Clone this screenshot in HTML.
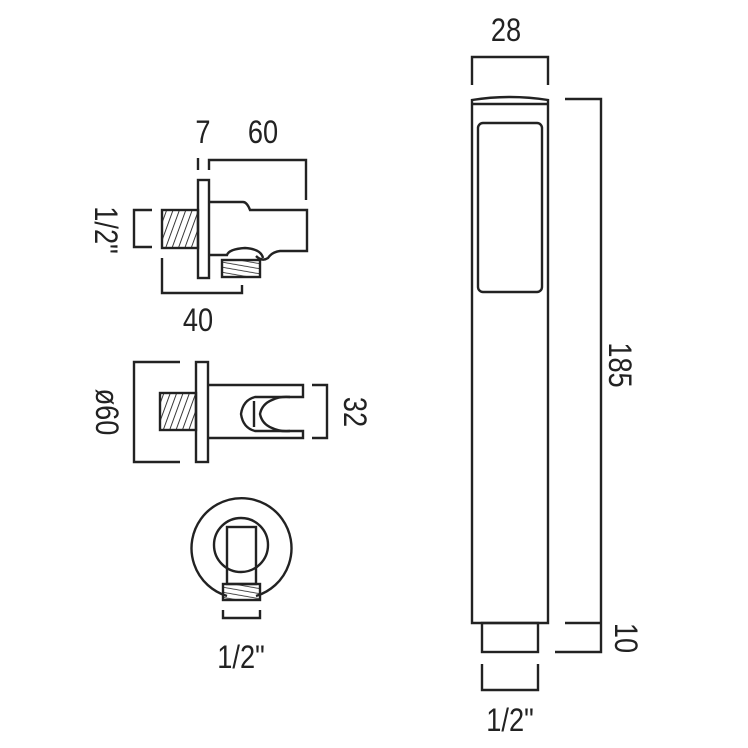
<!DOCTYPE html>
<html><head><style>
html,body{margin:0;padding:0;background:#fff;}
svg{display:block}
text{font-family:"Liberation Sans",sans-serif;font-size:32px;fill:#222;}
</style></head><body>
<svg width="748" height="748" viewBox="0 0 748 748" fill="none" stroke="#222" stroke-width="2.4">
<defs>
<pattern id="h" width="6" height="6" patternUnits="userSpaceOnUse" patternTransform="rotate(20)">
<line x1="0" y1="0" x2="0" y2="6" stroke="#222" stroke-width="1.8"/></pattern>
<pattern id="h2" width="5" height="5" patternUnits="userSpaceOnUse" patternTransform="rotate(-80)">
<line x1="0" y1="0" x2="0" y2="5" stroke="#222" stroke-width="1.6"/></pattern>
</defs>

<!-- side view -->
<text x="203" y="143" text-anchor="middle" stroke="none" transform="translate(203,0) scale(0.85,1) translate(-203,0)">7</text>
<text x="263" y="143" text-anchor="middle" stroke="none" transform="translate(263,0) scale(0.85,1) translate(-263,0)">60</text>
<polyline points="209,170 209,160 306,160 306,200"/>
<line x1="198" y1="158" x2="198" y2="170"/>
<rect x="198" y="180" width="11" height="98"/>
<rect x="162" y="210" width="36" height="38" fill="url(#h)"/>
<polyline points="152,210 134,210 134,247 152,247"/>
<text transform="translate(95,230) rotate(90) scale(0.85,1)" text-anchor="middle" stroke="none">1/2"</text>
<path d="M209,202 L243,202 Q247,202 250,210 L307,210 L307,251 L280,251 Q272,252 268,258 Q262,262 256,256 M209,255 L227,255 Q229,249 245,248 Q261,249 263,258"/>
<rect x="222" y="260" width="38" height="17" fill="url(#h2)"/>
<polyline points="162,258 162,293 242,293 242,285"/>
<text x="198" y="331" text-anchor="middle" stroke="none" transform="translate(198,0) scale(0.85,1) translate(-198,0)">40</text>

<!-- front view -->
<polyline points="180,362 134,362 134,462 180,462"/>
<text transform="translate(96,412) rotate(90) scale(0.85,1)" text-anchor="middle" stroke="none">ø60</text>
<rect x="196" y="362" width="12" height="100"/>
<rect x="160" y="393" width="36" height="37" fill="url(#h)"/>
<path d="M208,385 L303,385 L303,397 L290,397 Q280,396 272,400 Q262,404 260,414 Q262,424 272,428 Q280,432 290,431 L303,431 L303,438 L208,438"/>
<path d="M290,397 L255,397 Q243,400 241,414 Q243,428 255,431 L290,431"/>
<line x1="254" y1="401" x2="254" y2="427"/>
<polyline points="312,385 327,385 327,438 312,438"/>
<text transform="translate(344,412) rotate(90) scale(0.85,1)" text-anchor="middle" stroke="none">32</text>

<!-- round view -->
<path d="M227,596 A50,50 0 1 1 256,596"/>
<circle cx="241" cy="545" r="27"/>
<rect x="227" y="527" width="29" height="57"/>
<rect x="223" y="584" width="37" height="16" fill="url(#h2)"/>
<polyline points="223,610 223,618 260,618 260,610"/>
<text x="241" y="668" text-anchor="middle" stroke="none" transform="translate(241,0) scale(0.85,1) translate(-241,0)">1/2"</text>

<!-- handset -->
<text x="506" y="41" text-anchor="middle" stroke="none" transform="translate(506,0) scale(0.85,1) translate(-506,0)">28</text>
<polyline points="472,85 472,57 548,57 548,85"/>
<path d="M472,623 L472,100 Q510,94 548,100 L548,623 Z"/>
<line x1="472" y1="104" x2="548" y2="104"/>
<rect x="478" y="123" width="64" height="169" rx="5"/>
<rect x="482" y="623" width="56" height="29"/>
<polyline points="482,664 482,690 538,690 538,664"/>
<text x="510" y="731" text-anchor="middle" stroke="none" transform="translate(510,0) scale(0.85,1) translate(-510,0)">1/2"</text>
<polyline points="565,99 601,99 601,652 555,652"/>
<line x1="565" y1="623" x2="601" y2="623"/>
<text transform="translate(609,365) rotate(90) scale(0.85,1)" text-anchor="middle" stroke="none">185</text>
<text transform="translate(615,638) rotate(90) scale(0.85,1)" text-anchor="middle" stroke="none">10</text>
</svg>
</body></html>
